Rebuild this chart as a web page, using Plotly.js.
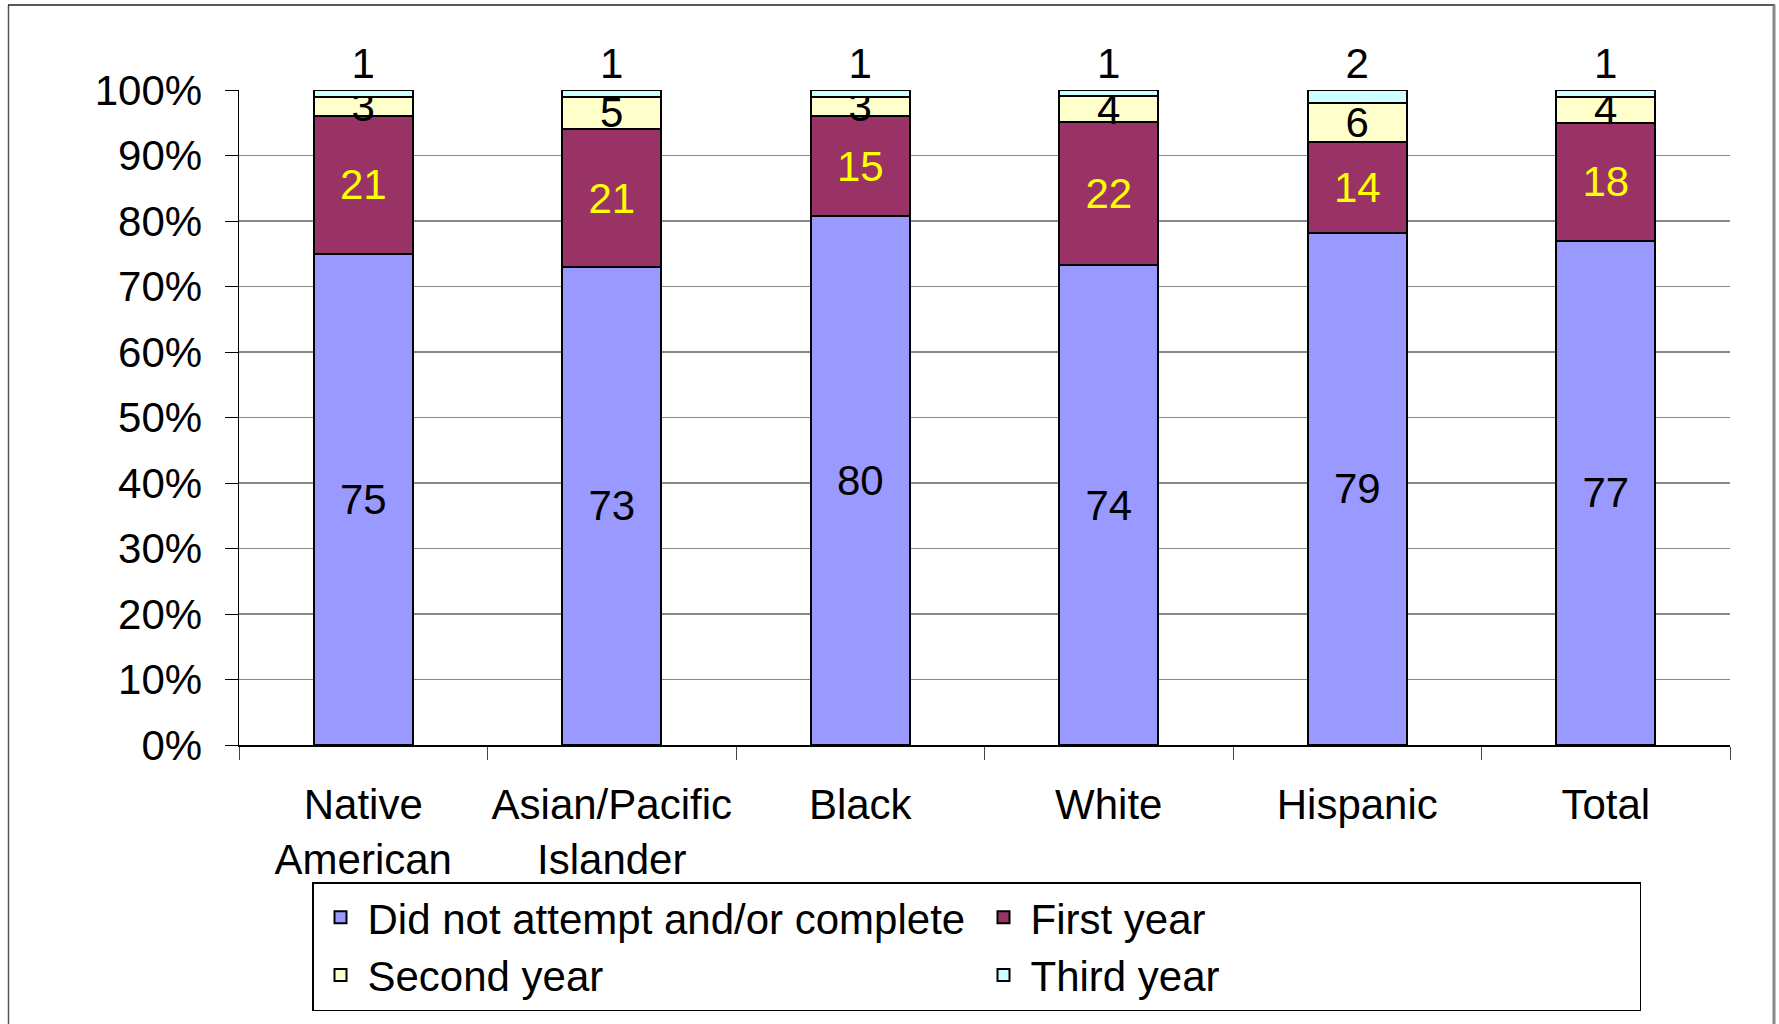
<!DOCTYPE html>
<html>
<head>
<meta charset="utf-8">
<script src="https://cdn.plot.ly/plotly-3.0.1.min.js"></script>
<style>
  html, body { margin: 0; padding: 0; background: #ffffff; }
  #chart { width: 1779px; height: 1024px; }
</style>
</head>
<body>
<div id="chart"></div>
<script>
// ---- Data ----
const categories = ["Native<br>American", "Asian/Pacific<br>Islander", "Black", "White", "Hispanic", "Total"];
const seriesNames = ["Did not attempt and/or complete", "First year", "Second year", "Third year"];
const didNotAttempt = [75, 73, 80, 74, 79, 77];
const firstYear     = [21, 21, 15, 22, 14, 18];
const secondYear    = [3, 5, 3, 4, 6, 4];
const thirdYear     = [1, 1, 1, 1, 2, 1];
const yTickVals = [0, 10, 20, 30, 40, 50, 60, 70, 80, 90, 100];
const yTickText = ["0%", "10%", "20%", "30%", "40%", "50%", "60%", "70%", "80%", "90%", "100%"];

// ---- Styles ----
const FONT = "Liberation Sans, Arial, sans-serif";
const FS = 42;
const colors = ["#9999FF", "#993366", "#FFFFCC", "#CCFFFF"];
const textColors = ["#000000", "#FFFF00", "#000000", "#000000"];
const seriesValues = [didNotAttempt, firstYear, secondYear, thirdYear];

const traces = seriesValues.map((vals, i) => ({
  type: "bar",
  name: seriesNames[i],
  x: categories,
  y: vals,
  text: vals.map(String),
  textposition: i === 3 ? "outside" : "inside",
  insidetextanchor: "middle",
  textangle: 0,
  cliponaxis: false,
  textfont: { family: FONT, size: FS, color: textColors[i] },
  insidetextfont: { family: FONT, size: FS, color: textColors[i] },
  outsidetextfont: { family: FONT, size: FS, color: textColors[i] },
  marker: { color: colors[i], line: { color: "#000000", width: 2 } },
  width: 0.4,
  hoverinfo: "none"
}));

// pixel -> paper helpers for decorative frame
const L = 239, R = 1730, T = 90, B = 745;
const px = v => (v - L) / (R - L);
const py = v => (B - v) / (B - T);

const layout = {
  width: 1779,
  height: 1024,
  paper_bgcolor: "#ffffff",
  plot_bgcolor: "#ffffff",
  margin: { l: L, r: 1779 - R, t: T, b: 1024 - B, pad: 0 },
  barmode: "stack",
  barnorm: "percent",
  showlegend: true,
  uniformtext: { mode: "show", minsize: FS },
  font: { family: FONT, size: FS, color: "#000000" },
  xaxis: {
    type: "category",
    tickson: "boundaries",
    ticks: "outside",
    ticklen: 13,
    tickcolor: "#444444",
    tickwidth: 1,
    tickangle: 0,
    showline: true,
    linecolor: "#000000",
    linewidth: 1.5,
    showgrid: false,
    tickfont: { family: FONT, size: FS, color: "#000000" },
    ticklabelstandoff: 22,
    automargin: false,
    fixedrange: true
  },
  yaxis: {
    range: [0, 100],
    tickmode: "array",
    tickvals: yTickVals,
    ticktext: yTickText,
    ticks: "outside",
    ticklen: 13,
    tickcolor: "#000000",
    tickwidth: 1,
    showline: true,
    linecolor: "#000000",
    linewidth: 1.5,
    showgrid: true,
    gridcolor: "#8a8a8a",
    gridwidth: 1.2,
    zeroline: false,
    tickfont: { family: FONT, size: FS, color: "#000000" },
    ticklabelstandoff: 14,
    automargin: false,
    fixedrange: true
  },
  legend: {
    orientation: "h",
    x: px(312),
    xanchor: "left",
    y: py(882),
    yanchor: "top",
    bgcolor: "#ffffff",
    bordercolor: "#000000",
    borderwidth: 1.5,
    font: { family: FONT, size: FS, color: "#000000" },
    itemwidth: 44,
    entrywidth: 604,
    entrywidthmode: "pixels",
    traceorder: "normal",
    itemclick: false,
    itemdoubleclick: false
  },
  shapes: [
    { type: "line", xref: "paper", yref: "paper", x0: px(8.5), x1: px(8.5), y0: py(5), y1: py(1024), line: { color: "#555555", width: 1.5 } },
    { type: "line", xref: "paper", yref: "paper", x0: px(8), x1: px(1775), y0: py(5), y1: py(5), line: { color: "#222222", width: 1.5 } },
    { type: "line", xref: "paper", yref: "paper", x0: px(1774), x1: px(1774), y0: py(5), y1: py(1024), line: { color: "#888888", width: 3 } }
  ]
};

Plotly.newPlot("chart", traces, layout, { displayModeBar: false, staticPlot: true });
</script>
</body>
</html>
